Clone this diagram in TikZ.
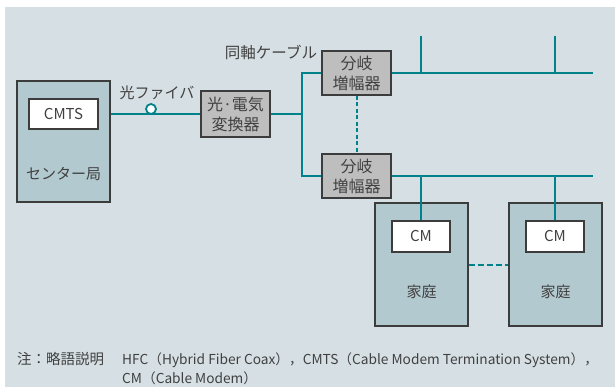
\documentclass[tikz,border=0pt]{standalone}
\usepackage{fontspec}
\setmainfont{Noto Sans CJK JP}
\usetikzlibrary{positioning}
\definecolor{bgblue}{HTML}{D6E0E4}
\definecolor{boxblue}{HTML}{B3C9D0}
\definecolor{ampgray}{HTML}{BEBEBE}
\definecolor{coax}{HTML}{00828A}
\definecolor{edgegray}{HTML}{3C3C3C}
\definecolor{txtgray}{HTML}{404040}

\begin{document}
\begin{tikzpicture}[x=1pt,y=-1pt,font=\fontsize{15}{20}\selectfont,text=txtgray]
   \tikzset{site/.style = {rectangle, draw=edgegray, fill=boxblue, line width=1.2pt, inner sep=0pt}, }
   \tikzset{modem/.style = {rectangle, draw=edgegray, fill=white, line width=1.2pt, minimum width=58pt, minimum height=31pt, inner sep=0pt}, }
   \tikzset{amp/.style = {rectangle, draw=edgegray, fill=ampgray, line width=1.2pt, minimum width=69pt, minimum height=44pt, align=center, inner sep=0pt, font=\fontsize{16}{20}\selectfont}, }
   \tikzset{cable/.style = {draw=coax, line width=2.4pt}, }
   \tikzset{link/.style = {draw=coax, line width=2pt, dash pattern=on 4pt off 2.5pt}, }
   \tikzset{note/.style = {inner sep=0pt, font=\fontsize{13.7}{19}\selectfont}, }
   \useasboundingbox (0,0) rectangle (615,387);
   \fill[bgblue] (5,7) rectangle (615,387);

   % center side
   \node[site, minimum width=93pt, minimum height=121pt] (center) at (63.5,141.5) {};
   \node[modem, minimum width=69pt, minimum height=30pt] (cmts) at (63.5,114) {CMTS};
   \node (centerlbl) at (63.5,174) {センター局};
   \node[amp, minimum height=46pt] (conv) at (235.5,114) {光·電気\\変換器};

   % splitters
   \node[amp] (split1) at (356.5,73) {分岐\\増幅器};
   \node[amp] (split2) at (356.5,176) {分岐\\増幅器};

   % homes
   \node[site, minimum width=93pt, minimum height=123pt] (home1) at (421.5,264.5) {};
   \node[site, minimum width=93pt, minimum height=123pt] (home2) at (555.5,264.5) {};
   \node[modem] (cm1) at (421,236.5) {CM};
   \node[modem] (cm2) at (555,236.5) {CM};
   \node (home1lbl) at (421.5,292) {家庭};
   \node (home2lbl) at (555.5,292) {家庭};

   \coordinate (jn) at (302,114);
   \coordinate (end1) at (593,73);
   \coordinate (end2) at (593,176);
   \coordinate (tap1) at (421,36);
   \coordinate (tap2) at (555,36);

   % cables
   \draw[cable] (cmts -| center.east) -- (conv.west);
   \draw[cable] (conv.east) -- (jn);
   \draw[cable] (split1.west) -| (jn) |- (split2.west);
   \draw[cable] (split1.east) -- (end1);
   \draw[cable] (split2.east) -- (end2);
   \draw[cable] (tap1) -- (tap1 |- end1);
   \draw[cable] (tap2) -- (tap2 |- end1);
   \draw[cable] (cm1.north) -- (cm1.north |- end2);
   \draw[cable] (cm2.north) -- (cm2.north |- end2);
   \draw[link] (split1.south) -- (split2.north);
   \draw[link, dash pattern=on 6pt off 3pt] (home1.east) -- (home2.west);

   \node[circle, draw=coax, fill=white, line width=1.8pt, minimum size=10pt, inner sep=0pt] (fiber) at (151,109) {};
   \node (fiberlbl) at (157,93) {光ファイバ};
   \node[font=\fontsize{15.5}{20}\selectfont] (coaxlbl) at (271,52) {同軸ケーブル};

   % note
   \node[note, anchor=base west, font=\fontsize{14.5}{19}\selectfont] (notehead) at (17,364) {注：略語説明};
   \node[note, anchor=base west] (notebody1) at (122,364) {HFC（Hybrid Fiber Coax），CMTS（Cable Modem Termination System），};
   \node[note, anchor=base west] (notebody2) at ([yshift=-19pt]notebody1.base west) {CM（Cable Modem）};
\end{tikzpicture}
\end{document}
